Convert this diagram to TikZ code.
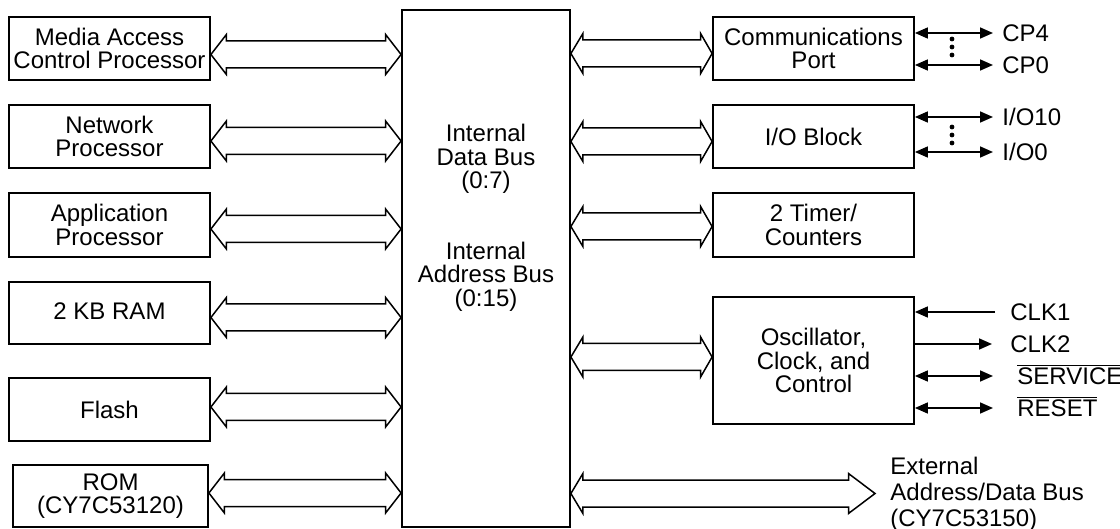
\documentclass[tikz,border=0pt]{standalone}
\usepackage{fontspec}
\setmainfont{Liberation Sans}
\usepackage{tikz}
\usetikzlibrary{calc,arrows.meta}

\begin{document}
\begin{tikzpicture}[x=0.5pt,y=-0.5pt,font=\fontsize{12pt}{11.75pt}\selectfont,
    bus/.style 2 args={line width=0.75pt,to path={-- ++(#1,-20) -- ++(0,6.5) -- ($(\tikztotarget)+(-#2,-13.5)$) -- ++(0,-6.5) -- (\tikztotarget) -- ++(-#2,20) -- ++(0,-6.5) -- ($(\tikztostart)+(#1,13.5)$) -- ++(0,6.5) -- cycle}},
    sig/.style={line width=0.8pt,-{Triangle[length=6.5pt,width=5.5pt]}},
    sigboth/.style={line width=0.8pt,{Triangle[length=6.5pt,width=5.5pt]}-{Triangle[length=6.5pt,width=5.5pt]}}]
  \tikzstyle{block}=[draw,line width=0.9pt,align=center,inner sep=0pt,minimum width=100.5pt,minimum height=31.5pt]
  \tikzstyle{pinlabel}=[anchor=west,inner sep=0pt,text height=8.6pt,text depth=0pt]
  \useasboundingbox (0,0) rectangle (1120,529);

  % left column
  \node[block] (mac) at (109.5,48.5) {Media Access\\Control Processor};
  \node[block] (net) at (109.5,136.5) {Network\\Processor};
  \node[block,minimum height=32pt] (app) at (109.5,225) {Application\\Processor};
  \node[block,minimum height=31pt] (ram) at (109.5,313) {\raisebox{2pt}{2 KB RAM}};
  \node[block] (flash) at (109.5,409.5) {Flash};
  \node[block,minimum width=97.5pt,minimum height=31pt] (rom) at (110.5,496) {ROM\\(CY7C53120)};

  % internal bus
  \node[block,minimum width=84pt,minimum height=258.5pt] (bus) at (486,268.5) {};
  \node[align=center] (busname) at (486,218) {Internal\\Data Bus\\(0:7)\\[23.5pt]Internal\\Address Bus\\(0:15)};

  % right column
  \node[block] (comm) at (813.5,48.5) {Communications\\Port};
  \node[block] (io) at (813.5,136.5) {I/O Block};
  \node[block,minimum height=32pt] (timer) at (813.5,225) {2 Timer/\\Counters};
  \node[block,minimum height=63.5pt] (osc) at (813.5,360.5) {Oscillator,\\Clock, and\\Control};

  % pins
  \node[pinlabel] (cp4) at (1002,33) {CP4};
  \node[pinlabel] (cp0) at (1002,65) {CP0};
  \node[pinlabel] (io10) at (1002,117) {I/O10};
  \node[pinlabel] (io0) at (1002,152) {I/O0};
  \node[pinlabel] (clk1) at (1010,312) {CLK1};
  \node[pinlabel] (clk2) at (1010,344) {CLK2};
  \node[pinlabel] (svc) at (1017,376) {$\overline{\mbox{SERVICE}}$};
  \node[pinlabel] (rst) at (1017,408) {$\overline{\mbox{RESET}}$};
  \node[anchor=west,align=left,inner sep=0pt,font=\fontsize{12pt}{13pt}\selectfont] (ext) at (890,494) {External\\Address/Data Bus\\(CY7C53150)};
  \coordinate (exttip) at (875,493.5);

  % bus arrows
  \draw[bus={15.5}{15.5}] (mac.east |- 0,54.5) to (bus.west |- 0,54.5);
  \draw[bus={15.5}{15.5}] (net.east |- 0,141) to (bus.west |- 0,141);
  \draw[bus={15.5}{15.5}] (app.east |- 0,229) to (bus.west |- 0,229);
  \draw[bus={15.5}{15.5}] (ram.east |- 0,317.5) to (bus.west |- 0,317.5);
  \draw[bus={15.5}{15.5}] (flash.east |- 0,407) to (bus.west |- 0,407);
  \draw[bus={15.5}{15.5}] (rom.east |- 0,493) to (bus.west |- 0,493);
  \draw[bus={12}{11.5}] (bus.east |- 0,53.5) to (comm.west |- 0,53.5);
  \draw[bus={12}{11.5}] (bus.east |- 0,141.5) to (io.west |- 0,141.5);
  \draw[bus={12}{11.5}] (bus.east |- 0,226.5) to (timer.west |- 0,226.5);
  \draw[bus={12}{11.5}] (bus.east |- 0,357) to (osc.west |- 0,357);
  \draw[bus={12}{26.5}] (bus.east |- exttip) to (exttip);

  % pin arrows
  \draw[sigboth] (comm.east |- cp4) -- ([xshift=-4.5pt]cp4.west);
  \draw[sigboth] (comm.east |- cp0) -- ([xshift=-4.5pt]cp0.west);
  \draw[sigboth] (io.east |- io10) -- ([xshift=-4.5pt]io10.west);
  \draw[sigboth] (io.east |- io0) -- ([xshift=-4.5pt]io0.west);
  \draw[sig] ([xshift=-7.5pt]clk1.west) -- (osc.east |- clk1);
  \draw[sig] (osc.east |- clk2) -- ([xshift=-9pt]clk2.west);
  \draw[sigboth] (osc.east |- svc) -- ([xshift=-12pt]svc.west);
  \draw[sigboth] (osc.east |- rst) -- ([xshift=-12pt]rst.west);
  \foreach \y in {39,47,55} \fill (952,\y) circle (1.2pt);
  \foreach \y in {127,135,143} \fill (952,\y) circle (1.2pt);
\end{tikzpicture}
\end{document}
